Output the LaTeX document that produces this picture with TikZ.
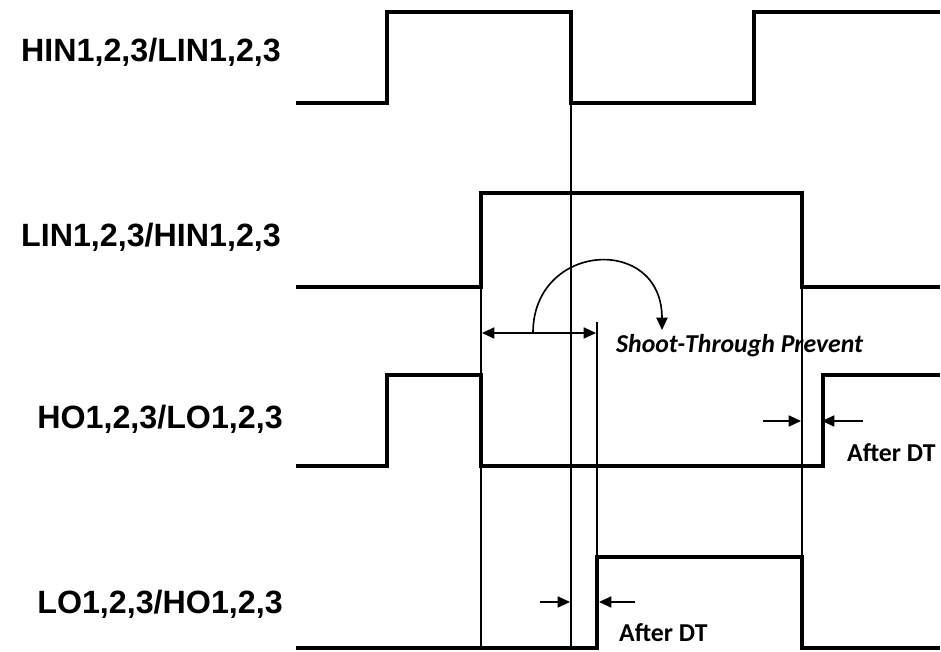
\documentclass[tikz,border=0pt]{standalone}
\usepackage{fontspec}
\usetikzlibrary{arrows.meta, positioning, calc}
\newfontfamily\sigfont{Liberation Sans}
\newfontfamily\notefont{Carlito}
\tikzset{
  wave/.style={line width=3.7pt, line join=miter},
  guide/.style={line width=1.7pt},
  dtarrow/.style={-{Triangle[length=10.5pt,width=9.5pt]}, line width=1.1pt},
  gaparrow/.style={{Triangle[length=10.5pt,width=9.5pt]}-{Triangle[length=10.5pt,width=9.5pt]}, line width=1.1pt},
  sweep/.style={-{Triangle[length=10.5pt,width=9.5pt]}, line width=1.4pt},
  siglabel/.style={font=\sigfont\bfseries\fontsize{27.5}{32}\selectfont, inner sep=0pt},
  notelabel/.style={font=\notefont\bfseries\fontsize{22}{26}\selectfont, inner sep=0pt},
}

\begin{document}
\begin{tikzpicture}[x=0.03cm, y=0.03cm]
  \useasboundingbox (0,0) rectangle (941,652);

  % --- Signal names ---
  \node[siglabel] (hin) at (151,600) {HIN1,2,3/LIN1,2,3};
  \node[siglabel] (lin) at (151,415) {LIN1,2,3/HIN1,2,3};
  \node[siglabel] (ho)  at (160,233) {HO1,2,3/LO1,2,3};
  \node[siglabel] (lo)  at (160,48)  {LO1,2,3/HO1,2,3};

  % --- Edges used by the guides ---
  \coordinate (base)    at (0,4);
  \coordinate (linrise) at (481,365);
  \coordinate (hinfall) at (571,549);
  \coordinate (lorise)  at (597,95);
  \coordinate (stop)    at (597,330);
  \coordinate (linfall) at (802,365);
  \coordinate (horise)  at (823,186);

  % --- Waveforms ---
  \draw[wave] (296,549) -- (387,549) -- (387,640) -- (571,640) -- (571,549)
              -- (754,549) -- (754,640) -- (940,640);
  \draw[wave] (296,365) -- (481,365) -- (481,459) -- (802,459) -- (802,365)
              -- (940,365);
  \draw[wave] (296,186) -- (387,186) -- (387,277) -- (481,277) -- (481,186)
              -- (823,186) -- (823,277) -- (940,277);
  \draw[wave] (296,4) -- (597,4) -- (597,95) -- (802,95) -- (802,4) -- (940,4);

  % --- Thin guide lines ---
  \draw[guide] (linrise) -- (linrise |- base);
  \draw[guide] (hinfall) -- (hinfall |- base);
  \draw[guide] (linfall) -- (linfall |- base);
  \draw[guide] (stop) -- (lorise);

  % --- Shoot-through window ---
  \coordinate (gapl) at (482,319);
  \coordinate (gapr) at (596,319);
  \draw[gaparrow] (gapl) -- (gapr);
  \coordinate (arcstart) at (533,319);
  \coordinate (arcend)   at (662,322);
  \draw[sweep] (arcstart) .. controls (533,410) and (662,418) .. (arcend);
  \node[notelabel, anchor=base west] (stp) at (616,299) {\itshape Shoot-Through Prevent};

  % --- Dead time on HO ---
  \coordinate (dt1a) at (763,231);
  \coordinate (dt1b) at (801,231);
  \coordinate (dt1c) at (863,231);
  \coordinate (dt1d) at (822,231);
  \draw[dtarrow] (dt1a) -- (dt1b);
  \draw[dtarrow] (dt1c) -- (dt1d);
  \node[notelabel, anchor=base west] (dtho) at (847,190) {After DT};

  % --- Dead time on LO ---
  \coordinate (dt2a) at (540,50);
  \coordinate (dt2b) at (570,50);
  \coordinate (dt2c) at (635,50);
  \coordinate (dt2d) at (599,50);
  \draw[dtarrow] (dt2a) -- (dt2b);
  \draw[dtarrow] (dt2c) -- (dt2d);
  \node[notelabel, anchor=base west] (dtlo) at (619,10) {After DT};

\end{tikzpicture}
\end{document}
